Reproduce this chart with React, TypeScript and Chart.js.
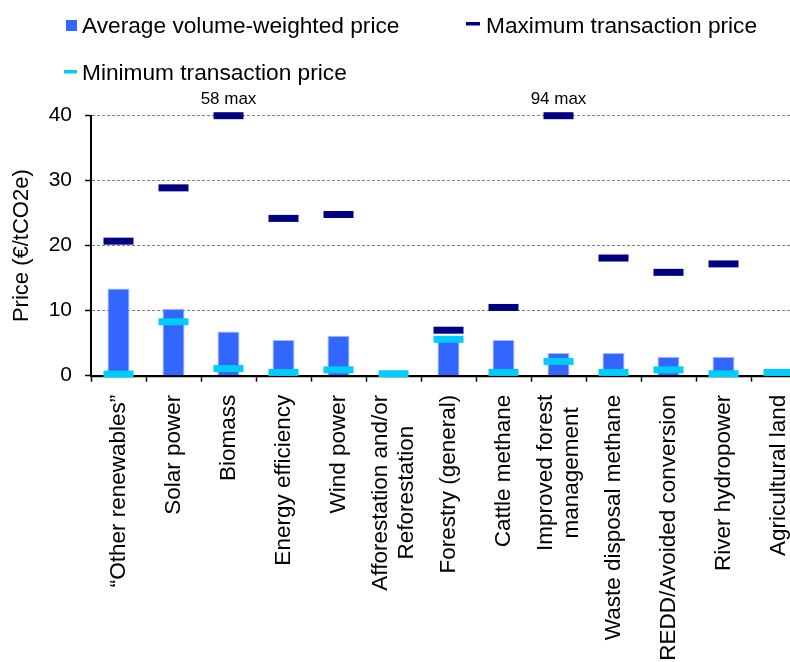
import React, { useEffect, useRef } from 'react';
import { Chart, registerables } from 'chart.js';

Chart.register(...registerables);

const categories: (string | string[])[] = [
  '“Other renewables”',
  'Solar power',
  'Biomass',
  'Energy efficiency',
  'Wind power',
  ['Afforestation and/or', 'Reforestation'],
  'Forestry (general)',
  'Cattle methane',
  ['Improved forest', 'management'],
  'Waste disposal methane',
  'REDD/Avoided conversion',
  'River hydropower',
  'Agricultural land',
];

const averagePrice = [13.4, 10.3, 6.8, 5.5, 6.15, 0.5, 5.7, 5.5, 3.5, 3.5, 2.9, 2.9, 0.6];
const maxPrice: (number | null)[] = [20.7, 28.9, 40, 24.2, 24.8, null, 7.0, 10.5, 40, 18.1, 15.9, 17.2, null];
const minPrice = [0.25, 8.3, 1.1, 0.5, 0.9, 0.3, 5.6, 0.5, 2.2, 0.5, 0.9, 0.3, 0.5];
const offScaleNotes: (string | null)[] = [null, null, '58 max', null, null, null, null, null, '94 max', null, null, null, null];

const yMin = 0;
const yMax = 40;
const yStep = 10;

const FONT = "'Liberation Sans', Arial, sans-serif";
const AVG_COLOR = '#3366FF';
const MAX_COLOR = '#000080';
const MIN_COLOR = '#00CCFF';

const legendPlugin = {
  id: 'customLegend',
  afterDraw(chart: any) {
    const ctx = chart.ctx as CanvasRenderingContext2D;
    const ds = chart.data.datasets;
    ctx.save();
    ctx.font = `22.7px ${FONT}`;
    ctx.textAlign = 'left';
    ctx.textBaseline = 'alphabetic';
    // Average (bar)
    ctx.fillStyle = AVG_COLOR;
    ctx.fillRect(66, 20, 11, 11);
    ctx.fillStyle = '#000';
    ctx.fillText(ds[2].label, 82, 33);
    // Maximum
    ctx.fillStyle = MAX_COLOR;
    ctx.fillRect(466, 22, 14, 3.5);
    ctx.fillStyle = '#000';
    ctx.fillText(ds[1].label, 486, 33);
    // Minimum
    ctx.fillStyle = MIN_COLOR;
    ctx.fillRect(64, 70, 13, 3.5);
    ctx.fillStyle = '#000';
    ctx.fillText(ds[0].label, 82, 80);
    ctx.restore();
  },
};

const notePlugin = {
  id: 'offScaleNotes',
  afterDraw(chart: any) {
    const ctx = chart.ctx as CanvasRenderingContext2D;
    const xs = chart.scales.x;
    const ys = chart.scales.y;
    ctx.save();
    ctx.font = `17px ${FONT}`;
    ctx.fillStyle = '#000';
    ctx.textAlign = 'center';
    ctx.textBaseline = 'alphabetic';
    offScaleNotes.forEach((note, i) => {
      if (!note) return;
      ctx.fillText(note, xs.getPixelForValue(i), ys.getPixelForValue(yMax) - 12);
    });
    ctx.restore();
  },
};

// Category labels, rotated, with multi-line labels centred on their tick
const xLabelPlugin = {
  id: 'xLabels',
  afterDraw(chart: any) {
    const ctx = chart.ctx as CanvasRenderingContext2D;
    const xs = chart.scales.x;
    const labels = chart.data.labels as (string | string[])[];
    const lineH = 25.7;
    const top = xs.top + 19;
    ctx.save();
    ctx.font = `22.5px ${FONT}`;
    ctx.fillStyle = '#000';
    ctx.textBaseline = 'middle';
    ctx.textAlign = 'center';
    labels.forEach((lab, i) => {
      const lines = Array.isArray(lab) ? lab : [lab];
      const widths = lines.map((l) => ctx.measureText(l).width);
      const maxW = Math.max(...widths);
      const cx = xs.getPixelForValue(i);
      const n = lines.length;
      lines.forEach((line, j) => {
        const x = cx + (j - (n - 1) / 2) * lineH;
        const y = top + maxW / 2;
        ctx.save();
        ctx.translate(x, y);
        ctx.rotate(-Math.PI / 2);
        ctx.fillText(line, 0, 0);
        ctx.restore();
      });
    });
    ctx.restore();
  },
};

export default function App() {
  const ref = useRef<HTMLCanvasElement | null>(null);

  useEffect(() => {
    if (!ref.current) return;
    const chart = new Chart(ref.current, {
      type: 'bar',
      data: {
        labels: categories as any,
        datasets: [
          {
            type: 'line',
            label: 'Minimum transaction price',
            data: minPrice,
            showLine: false,
            pointStyle: 'line',
            pointRadius: 15,
            pointHoverRadius: 15,
            pointBorderWidth: 7,
            pointBorderColor: MIN_COLOR,
            pointBackgroundColor: MIN_COLOR,
            borderColor: MIN_COLOR,
            backgroundColor: MIN_COLOR,
            order: 1,
            clip: false,
          } as any,
          {
            type: 'line',
            label: 'Maximum transaction price',
            data: maxPrice,
            showLine: false,
            pointStyle: 'line',
            pointRadius: 15,
            pointHoverRadius: 15,
            pointBorderWidth: 7,
            pointBorderColor: MAX_COLOR,
            pointBackgroundColor: MAX_COLOR,
            borderColor: MAX_COLOR,
            backgroundColor: MAX_COLOR,
            order: 2,
            clip: false,
          } as any,
          {
            type: 'bar',
            label: 'Average volume-weighted price',
            data: averagePrice,
            backgroundColor: AVG_COLOR,
            borderColor: '#A8BDFF',
            borderWidth: 1,
            barPercentage: 0.4,
            categoryPercentage: 1,
            order: 3,
          } as any,
        ],
      },
      options: {
        responsive: false,
        animation: false,
        layout: { padding: { top: 115.7, left: 0, right: 0, bottom: 0 } },
        plugins: {
          legend: { display: false },
          tooltip: { enabled: false },
        },
        scales: {
          x: {
            offset: true,
            grid: {
              display: true,
              drawOnChartArea: false,
              drawTicks: true,
              tickLength: 6,
              tickColor: '#000',
              tickWidth: 1.5,
              offset: true,
            },
            border: { display: true, color: '#000', width: 2.3 },
            ticks: { display: false, autoSkip: false },
            afterFit: (s: any) => {
              s.height = 662 - 375.7;
            },
          },
          y: {
            min: yMin,
            max: yMax,
            ticks: {
              stepSize: yStep,
              padding: 13,
              color: '#000',
              font: { family: FONT, size: 21 },
            },
            grid: {
              color: (c: any) => (c.tick && c.tick.value === 0 ? 'rgba(0,0,0,0)' : '#808080'),
              tickColor: '#000',
              tickLength: 6,
              tickWidth: 1.5,
              tickBorderDash: [10, 0],
            },
            border: { display: true, color: '#000', width: 2, dash: [3, 2] },
            title: {
              display: true,
              text: 'Price (€/tCO2e)',
              color: '#000',
              font: { family: FONT, size: 22 },
              padding: { top: 9, bottom: 0 },
            },
            afterFit: (s: any) => {
              s.width = 91;
            },
          },
        },
      } as any,
      plugins: [legendPlugin, notePlugin, xLabelPlugin],
    });
    return () => chart.destroy();
  }, []);

  return (
    <div
      style={{
        position: 'fixed',
        left: 0,
        top: 0,
        width: 790,
        height: 662,
        overflow: 'hidden',
        background: '#fff',
      }}
    >
      <canvas ref={ref} width={828} height={662} style={{ display: 'block', width: 828, height: 662 }} />
    </div>
  );
}
